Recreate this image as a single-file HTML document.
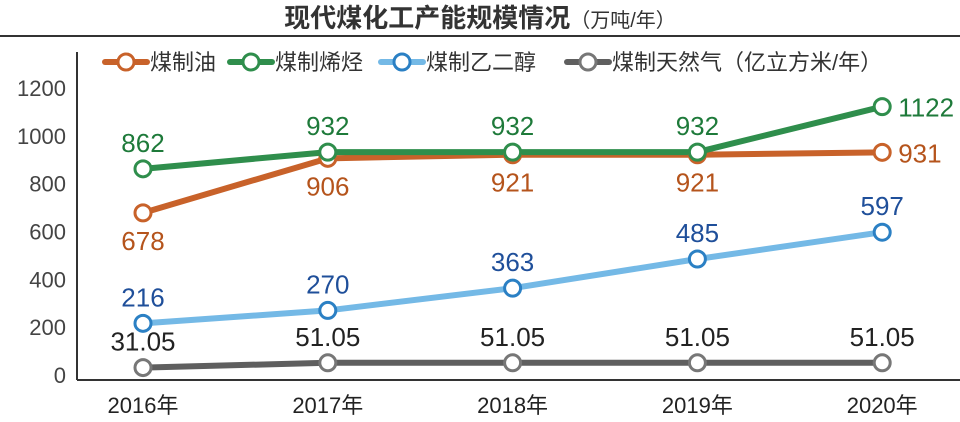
<!DOCTYPE html>
<html><head><meta charset="utf-8"><style>
body{margin:0;background:#fff;width:960px;height:417px;overflow:hidden;font-family:"Liberation Sans","Noto Sans CJK SC",sans-serif;}
</style></head><body>
<svg id="c" width="960" height="417" xmlns="http://www.w3.org/2000/svg">
<text x="480" y="27" text-anchor="middle" font-size="26" font-weight="bold" fill="#333">现代煤化工产能规模情况<tspan font-size="20" font-weight="normal">（万吨/年）</tspan></text>
<line x1="0" y1="36" x2="960" y2="36" stroke="#333" stroke-width="2"/>
<line x1="77" y1="52" x2="77" y2="380" stroke="#333" stroke-width="2"/>
<line x1="77" y1="380" x2="960" y2="380" stroke="#333" stroke-width="2"/>
<g id="legend"></g>
<g id="plot"></g>
</svg>
<script>
const categories=["2016年","2017年","2018年","2019年","2020年"];
const yTicks=[0,200,400,600,800,1000,1200];
const oil=[678,906,921,921,931];
const olefin=[862,932,932,932,1122];
const glycol=[216,270,363,485,597];
const gas=[31.05,51.05,51.05,51.05,51.05];
const oilLabels=["678","906","921","921","931"];
const olefinLabels=["862","932","932","932","1122"];
const glycolLabels=["216","270","363","485","597"];
const gasLabels=["31.05","51.05","51.05","51.05","51.05"];
const seriesNames=["煤制油","煤制烯烃","煤制乙二醇","煤制天然气（亿立方米/年）"];

const NS="http://www.w3.org/2000/svg";
const svg=document.getElementById('c'),plot=document.getElementById('plot'),leg=document.getElementById('legend');
const xPos=i=>143+i*184.8;
const yPos=v=>375-v*(287/1200);
function mk(tag,attrs,parent){const e=document.createElementNS(NS,tag);for(const k in attrs)e.setAttribute(k,attrs[k]);(parent||plot).appendChild(e);return e;}
yTicks.forEach(t=>{const e=mk('text',{x:66,y:yPos(t)+8,'text-anchor':'end','font-size':22,fill:'#444'},svg);e.textContent=t;

});
categories.forEach((c,i)=>{const e=mk('text',{x:xPos(i),y:413,'text-anchor':'middle','font-size':22,fill:'#222'},svg);e.textContent=c;

});
const series=[
 {vals:gas,labs:gasLabels,line:'#5f5f5f',dot:'#777',tc:'#222',pos:'above',name:'gas'},
 {vals:glycol,labs:glycolLabels,line:'#74b9e6',dot:'#2b80c4',tc:'#1f4f9a',pos:'above',name:'glycol'},
 {vals:oil,labs:oilLabels,line:'#c8622a',dot:'#c8622a',tc:'#b5541c',pos:'below',name:'oil'},
 {vals:olefin,labs:olefinLabels,line:'#2f8e4c',dot:'#2f8e4c',tc:'#1e7a3a',pos:'above',name:'olefin'}
];
series.forEach(s=>{
 const pts=s.vals.map((v,i)=>xPos(i)+','+yPos(v)).join(' ');
 const pl=mk('polyline',{points:pts,fill:'none',stroke:s.line,'stroke-width':6,'stroke-linejoin':'round'});
 
 
});
series.forEach(s=>{
 s.vals.forEach((v,i)=>{
  const c=mk('circle',{cx:xPos(i),cy:yPos(v),r:8,fill:'#fff',stroke:s.dot,'stroke-width':3});
  
  
  let tx=xPos(i),ty=s.pos==='above'?yPos(v)-17:yPos(v)+37,anchor='middle';
  if(s.name==='oil'&&i===4){tx=xPos(i)+16;ty=yPos(v)+10;anchor='start';}
  if(s.name==='olefin'&&i===4){tx=xPos(i)+16;ty=yPos(v)+10;anchor='start';}
  const t=mk('text',{x:tx,y:ty,'text-anchor':anchor,'font-size':26,fill:s.tc});
  t.textContent=s.labs[i];
  
  
 });
});
const legItems=[{x:105,line:'#c8622a',dot:'#c8622a'},{x:230,line:'#2f8e4c',dot:'#2f8e4c'},{x:381,line:'#74b9e6',dot:'#2b80c4'},{x:567,line:'#5f5f5f',dot:'#777'}];
legItems.forEach((l,i)=>{
 const g=mk('g',{},leg);
 
 
 mk('line',{x1:l.x,y1:62,x2:l.x+42,y2:62,stroke:l.line,'stroke-width':6,'stroke-linecap':'round'},g);
 mk('circle',{cx:l.x+21,cy:62,r:8,fill:'#fff',stroke:l.dot,'stroke-width':3},g);
 const t=mk('text',{x:l.x+45,y:70,'font-size':22,fill:'#333'},g);t.textContent=seriesNames[i];
});
</script>
</body></html>
